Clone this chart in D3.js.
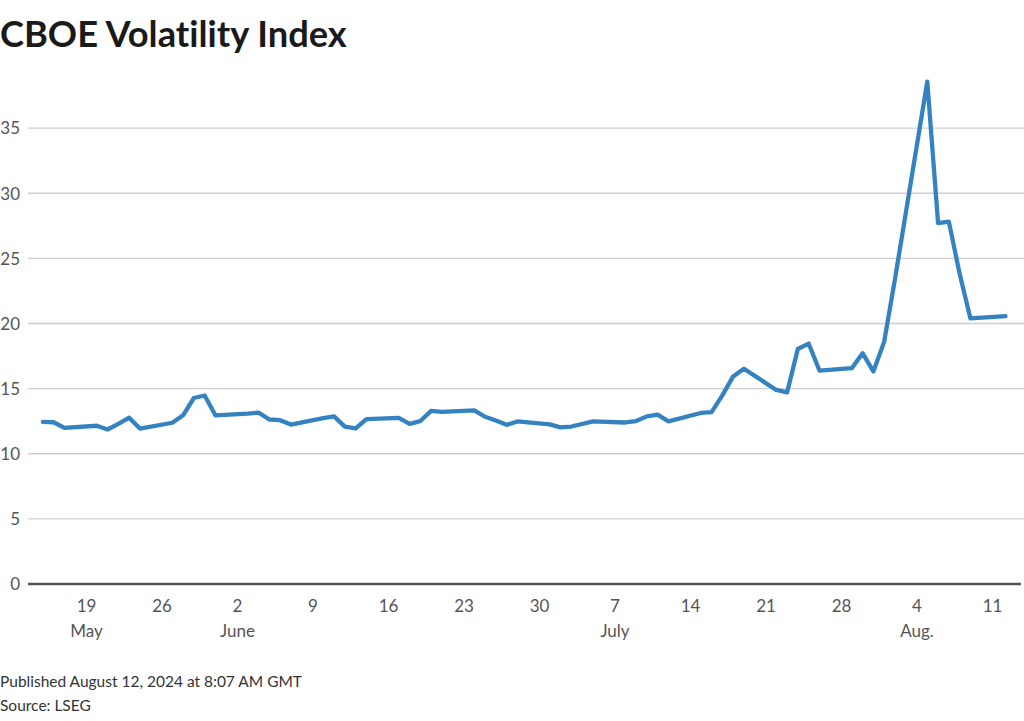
<!DOCTYPE html>
<html><head><meta charset="utf-8">
<script src="https://cdn.jsdelivr.net/npm/d3@7"></script>
<style>
body{margin:0;background:#fff;}
svg{display:block;font-family:"Lato","Noto Sans",sans-serif;}
</style></head>
<body>
<svg id="c" width="1024" height="721"></svg>
<script>
const title = "CBOE Volatility Index";
const footerLines = ["Published August 12, 2024 at 8:07 AM GMT", "Source: LSEG"];
const dates = [
"2024-05-15","2024-05-16","2024-05-17","2024-05-20","2024-05-21","2024-05-22","2024-05-23","2024-05-24",
"2024-05-27","2024-05-28","2024-05-29","2024-05-30","2024-05-31",
"2024-06-03","2024-06-04","2024-06-05","2024-06-06","2024-06-07",
"2024-06-10","2024-06-11","2024-06-12","2024-06-13","2024-06-14",
"2024-06-17","2024-06-18","2024-06-19","2024-06-20","2024-06-21",
"2024-06-24","2024-06-25","2024-06-26","2024-06-27","2024-06-28",
"2024-07-01","2024-07-02","2024-07-03","2024-07-05",
"2024-07-08","2024-07-09","2024-07-10","2024-07-11","2024-07-12",
"2024-07-15","2024-07-16","2024-07-17","2024-07-18","2024-07-19",
"2024-07-22","2024-07-23","2024-07-24","2024-07-25","2024-07-26",
"2024-07-29","2024-07-30","2024-07-31","2024-08-01","2024-08-02",
"2024-08-05","2024-08-06","2024-08-07","2024-08-08","2024-08-09",
"2024-08-12T06:00"];
const values = [
12.45,12.42,11.99,12.15,11.86,12.29,12.77,11.93,
12.38,12.95,14.28,14.47,12.95,
13.08,13.16,12.63,12.58,12.24,
12.74,12.87,12.08,11.94,12.66,
12.75,12.30,12.51,13.29,13.22,
13.33,12.84,12.55,12.22,12.48,
12.25,12.02,12.09,12.49,
12.40,12.51,12.87,13.00,12.49,
13.13,13.20,14.48,15.94,16.53,
14.90,14.71,18.04,18.46,16.39,
16.57,17.72,16.32,18.59,23.39,
38.57,27.70,27.82,23.82,20.39,
20.57];
const yTicks = [0,5,10,15,20,25,30,35];
const monthLabels = {4:"May",5:"June",6:"July",7:"Aug."};
</script>
<script>
const svg = d3.select("#c");
const data = dates.map((d,i)=>({date:new Date(d.length>10?d:d+"T00:00"), value:values[i]}));

const left = 28, right = 1021;
const x = d3.scaleTime()
  .domain([new Date(2024,4,19), new Date(2024,7,11)])
  .range([86, 992]);
const y = d3.scaleLinear().domain([0,40]).range([584, 63]);

// title
const t = svg.append("text").attr("x",0).attr("y",47)
  .attr("font-size",32).attr("font-weight",700).attr("fill","#1a1a1a")
  .style("font-variant-ligatures","none")
  .text(title);
const tw = t.node().getComputedTextLength();
t.attr("font-size", 32*347/tw);

// gridlines + y labels
const yAxis = d3.axisLeft(y).tickValues(yTicks).tickSize(0).tickPadding(0);
const gy = svg.append("g").attr("transform",`translate(20,0)`).call(yAxis);
gy.select(".domain").remove();
gy.selectAll("text").attr("font-family","Lato, Noto Sans, sans-serif")
  .attr("font-size",17).attr("fill","#555").attr("dy","0.34em").attr("x",0);

svg.append("g").selectAll("line").data(yTicks.filter(v=>v>0)).join("line")
  .attr("x1",left).attr("x2",1024).attr("y1",d=>y(d)).attr("y2",d=>y(d))
  .attr("stroke","#cfcfcf").attr("stroke-width",1.3);

// x axis
const xAxis = d3.axisBottom(x).ticks(d3.timeSunday.every(1)).tickSize(0).tickPadding(0)
  .tickFormat(d=>d3.timeFormat("%-d")(d));
const gx = svg.append("g").attr("transform",`translate(0,${y(0)})`).call(xAxis);
gx.select(".domain").remove();
gx.selectAll("text").attr("font-family","Lato, Noto Sans, sans-serif")
  .attr("font-size",17).attr("fill","#555").attr("y",16).attr("dy","0.71em");
const seen = new Set();
gx.selectAll(".tick").each(function(d){
  const m = d.getMonth();
  if(!seen.has(m)){
    seen.add(m);
    d3.select(this).append("text").attr("fill","#555").attr("font-size",17)
      .attr("font-family","Lato, Noto Sans, sans-serif")
      .attr("y",41).attr("dy","0.71em").attr("text-anchor","middle").text(monthLabels[m]);
  }
});
svg.append("line").attr("x1",left).attr("x2",right).attr("y1",y(0)).attr("y2",y(0))
  .attr("stroke","#555").attr("stroke-width",2.5);

// line
const line = d3.line().x(d=>x(d.date)).y(d=>y(d.value));
svg.append("path").datum(data).attr("d",line).attr("fill","none")
  .attr("stroke","#3483c0").attr("stroke-width",4.3)
  .attr("stroke-linejoin","round").attr("stroke-linecap","round");

// footer
svg.append("g").selectAll("text").data(footerLines).join("text")
  .attr("x",0).attr("y",(d,i)=>687+i*24).attr("font-size",15.5).attr("fill","#333")
  .text(d=>d);
</script>
</body></html>
